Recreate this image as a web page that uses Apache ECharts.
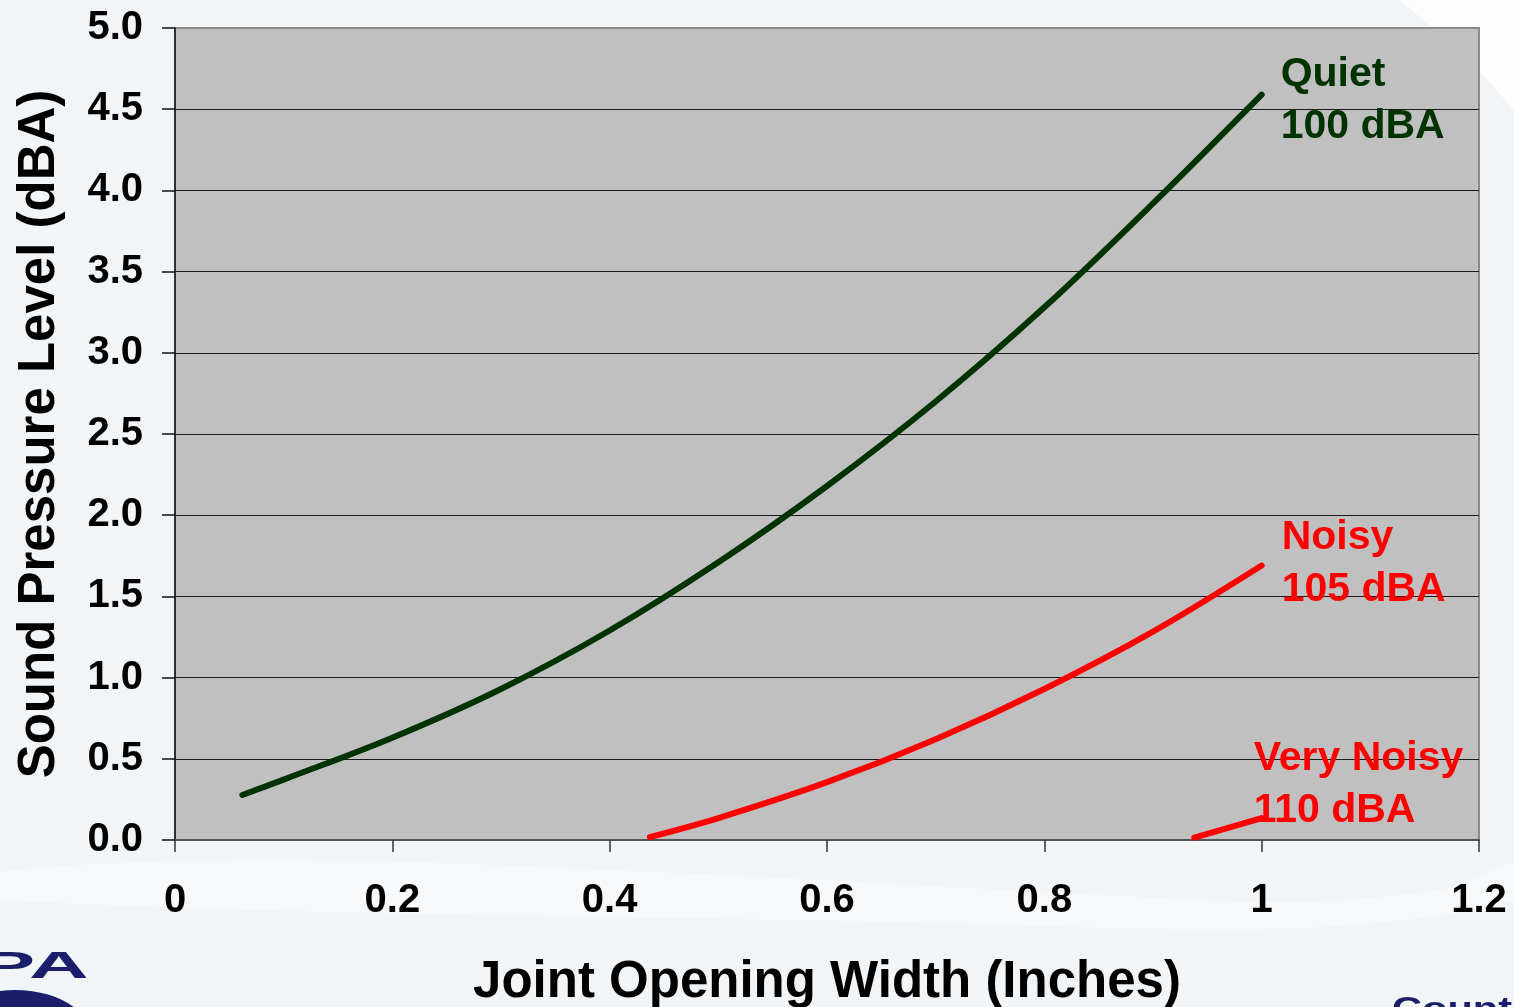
<!DOCTYPE html>
<html>
<head>
<meta charset="utf-8">
<script src="https://cdn.jsdelivr.net/npm/echarts@6/dist/echarts.min.js"></script>
<style>
html,body{margin:0;padding:0;background:#f2f5f8;}
#chart{width:1514px;height:1007px;}
</style>
</head>
<body>
<div id="chart"></div>
<script>
// Joint opening width (inches) and sound pressure level values
const quietX = [0.062, 0.1, 0.2, 0.3, 0.4, 0.5, 0.6, 0.7, 0.8, 0.9, 1.0];
const quietY = [0.277, 0.372, 0.63, 0.93, 1.29, 1.71, 2.18, 2.70, 3.28, 3.92, 4.59];
const noisyX = [0.437, 0.5, 0.6, 0.7, 0.8, 0.9, 1.0];
const noisyY = [0.018, 0.135, 0.356, 0.621, 0.93, 1.283, 1.69];
const veryNoisyX = [0.938, 1.0];
const veryNoisyY = [0.014, 0.135];
const seriesLabels = ["Quiet\n100 dBA", "Noisy\n105 dBA", "Very Noisy\n110 dBA"];
const xTitle = "Joint Opening Width (Inches)";
const yTitle = "Sound Pressure Level (dBA)";

const pairs = (xs, ys) => xs.map((x, i) => [x, ys[i]]);
const chart = echarts.init(document.getElementById('chart'), null, {renderer: 'canvas'});

const tickFont = {fontFamily: 'Liberation Sans', fontWeight: 'bold', fontSize: 40, color: '#000'};
const titleFont = {fontFamily: 'Liberation Sans', fontWeight: 'bold', fontSize: 51, color: '#000'};

function lineSeries(name, data, color, label, offset) {
  return {
    name: name, type: 'line', data: data, smooth: 0.35, showSymbol: false, symbol: 'none',
    lineStyle: {color: color, width: 6, cap: 'round', join: 'round'},
    silent: true, animation: false,
    endLabel: {
      show: true, formatter: label, align: 'left', verticalAlign: 'middle', offset: offset,
      distance: 0,
      fontFamily: 'Liberation Sans', fontWeight: 'bold', fontSize: 41, lineHeight: 52, color: color
    }
  };
}

chart.setOption({
  backgroundColor: '#f2f5f8',
  animation: false,
  graphic: [
    {type: 'polygon', silent: true, z: -10,
      shape: {points: [[0,872],[300,860],[700,874],[1100,895],[1300,902],[1450,888],[1514,864],[1514,900],[1300,928],[900,922],[0,900]], smooth: 0.3},
      style: {fill: 'rgba(255,255,255,0.35)'}},
    {type: 'polygon', silent: true, z: -10,
      shape: {points: [[1400,0],[1514,0],[1514,110],[1470,60]]},
      style: {fill: 'rgba(255,255,255,0.8)'}},
    {type: 'text', x: -20, y: 950, scaleX: 2.3, silent: true,
      style: {text: 'PA', fontFamily: 'Liberation Sans', fontWeight: 'bold', fontSize: 36, fill: '#1b1f6b'}},
    {type: 'ellipse', silent: true, shape: {cx: 15, cy: 1035, rx: 75, ry: 45},
      style: {fill: '#1b1f6b'}},
    {type: 'text', x: 1392, y: 994, scaleX: 1.3, silent: true,
      style: {text: 'Count', fontFamily: 'Liberation Sans', fontWeight: 'bold', fontSize: 32, fill: '#1b1f6b'}}
  ],
  grid: {
    left: 175, top: 28, right: 35, bottom: 167, outerBoundsMode: 'none', containLabel: false,
    show: true, backgroundColor: '#c0c0c0', borderColor: '#8a8a8a', borderWidth: 2
  },
  xAxis: {
    type: 'value', min: 0, max: 1.2, interval: 0.2,
    name: xTitle, nameLocation: 'middle', nameGap: 117, nameTextStyle: titleFont,
    axisLine: {show: true, onZero: false, lineStyle: {color: '#555', width: 2}},
    axisTick: {show: true, length: 12, lineStyle: {color: '#333', width: 1.5}},
    axisLabel: Object.assign({margin: 41}, tickFont),
    splitLine: {show: false}
  },
  yAxis: {
    type: 'value', min: 0, max: 5, interval: 0.5,
    name: yTitle, nameLocation: 'middle', nameGap: 110, nameTextStyle: titleFont,
    axisLine: {show: true, lineStyle: {color: '#111', width: 1.5}},
    axisTick: {show: true, length: 13, lineStyle: {color: '#111', width: 1.5}},
    axisLabel: Object.assign({margin: 32, formatter: v => v.toFixed(1)}, tickFont),
    splitLine: {show: true, showMaxLine: false, showMinLine: false, lineStyle: {color: '#1a1a1a', width: 1.2}}
  },
  series: [
    lineSeries('Quiet', pairs(quietX, quietY), '#003300', seriesLabels[0], [19, 6]),
    lineSeries('Noisy', pairs(noisyX, noisyY), '#ff0000', seriesLabels[1], [20, -2]),
    lineSeries('Very Noisy', pairs(veryNoisyX, veryNoisyY), '#ff0000', seriesLabels[2], [-8, -33])
  ]
});
</script>
</body>
</html>
